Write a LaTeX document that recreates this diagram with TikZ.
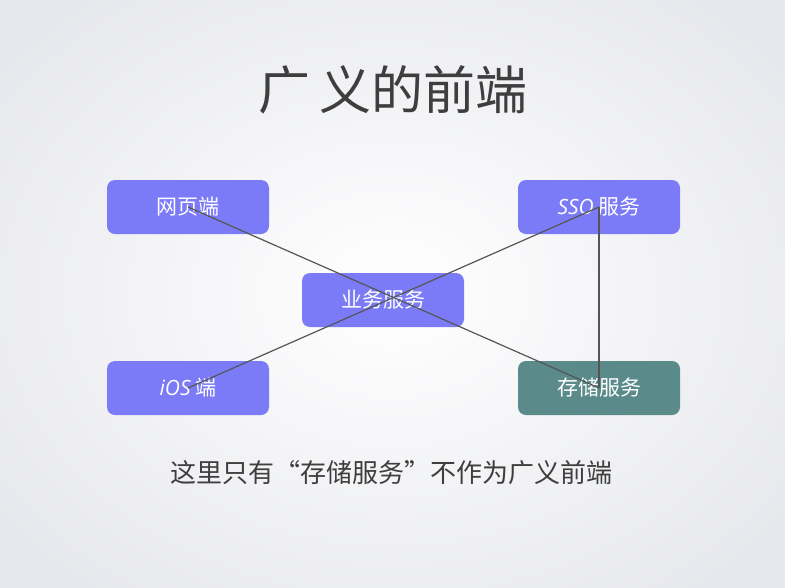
\documentclass[tikz,border=0pt]{standalone}
\usepackage{fontspec}
\setmainfont{Noto Sans CJK SC}
\newfontfamily\latinit{Open Sans}
\definecolor{boxblue}{HTML}{7B7BF8}
\definecolor{boxteal}{HTML}{5A8A8A}
\definecolor{linegray}{HTML}{555555}
\definecolor{textgray}{HTML}{3E3E3E}
\definecolor{bgedge}{HTML}{E6E7EC}
\tikzset{
  box/.style={rounded corners=8pt, minimum width=162pt, minimum height=54pt, inner sep=0pt, text=white, font=\fontsize{21pt}{24pt}\selectfont},
  bluebox/.style={box, fill=boxblue},
  tealbox/.style={box, fill=boxteal},
  link/.style={draw=linegray, line width=1.2pt},
}
\begin{document}
\begin{tikzpicture}[x=1pt,y=-1pt]
\useasboundingbox (0,0) rectangle (785,587);
\begin{scope}
\clip (0,0) rectangle (785,587);
\shade[inner color=white, outer color=bgedge] (-120,-100) rectangle (905,687);
\end{scope}
\node[text=textgray, font=\fontsize{52pt}{58pt}\selectfont] (title) at (393,90) {广\,义的前端};
\node[bluebox] (web) at (188,207) {网页端};
\node[bluebox] (sso) at (599,207) {{\latinit\itshape SSO} 服务};
\node[bluebox] (biz) at (383,300) {业务服务};
\node[bluebox] (ios) at (188,388) {{\latinit\itshape iOS} 端};
\node[tealbox] (store) at (599,388) {存储服务};
\draw[link] (web.center) -- (store.center);
\draw[link] (ios.center) -- (sso.center);
\draw[link] (sso.center) -- (store.center);
\node[text=textgray, font=\fontsize{26pt}{30pt}\selectfont] (note) at (391,473) {这里只有“存储服务”不作为广义前端};
\end{tikzpicture}
\end{document}
